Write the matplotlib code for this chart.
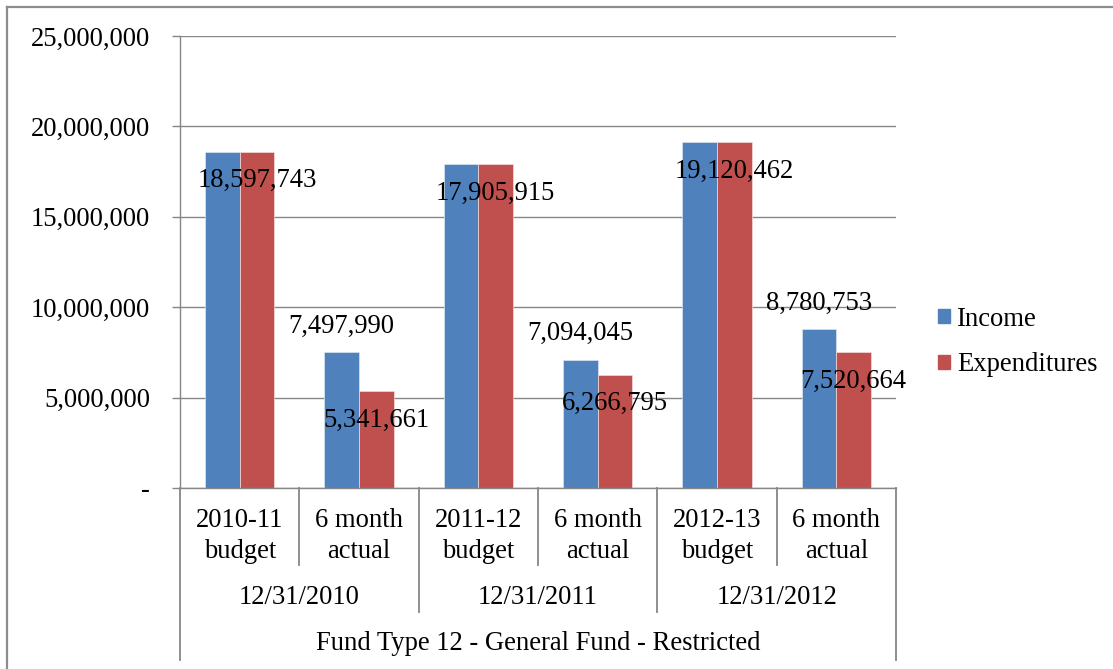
import numpy as np
import matplotlib
matplotlib.use("Agg")
import matplotlib.pyplot as plt
from matplotlib.lines import Line2D
from matplotlib.patches import Patch
from matplotlib.transforms import blended_transform_factory
from matplotlib.ticker import FuncFormatter

plt.rcParams['font.family'] = ['Liberation Serif', 'DejaVu Serif']

# data
periods = ['2010-11\nbudget', '6 month\nactual', '2011-12\nbudget',
           '6 month\nactual', '2012-13\nbudget', '6 month\nactual']
dates = ['12/31/2010', '12/31/2011', '12/31/2012']
fund = 'Fund Type 12 - General Fund - Restricted'
income = [18597743, 7497990, 17905915, 7094045, 19120462, 8780753]
expend = [18597743, 5341661, 17905915, 6266795, 19120462, 7520664]
show_income_label = [False, True, False, True, False, True]

BLUE = '#4F81BD'
RED = '#C0504D'
GRAY = '#868686'
FS = 19.2

W, H = 1113, 669
fig = plt.figure(figsize=(W / 100, H / 100), dpi=100)
ax = fig.add_axes([180 / W, 1 - 488 / H, (896 - 180) / W, (488 - 36) / H])

x = np.arange(len(periods))
bw = 0.29
ax.bar(x - bw / 2, income, bw, color=BLUE, edgecolor='#dbe5f1', linewidth=0.5,
       label='Income', zorder=2)
ax.bar(x + bw / 2, expend, bw, color=RED, edgecolor='#f2dcdb', linewidth=0.5,
       label='Expenditures', zorder=2)

# data labels (px offsets converted to points)
px = 72 / 100
for i in range(len(x)):
    ax.annotate(f'{expend[i]:,}', (x[i] + bw / 2, expend[i]),
                xytext=(0, -29 * px), textcoords='offset points',
                ha='center', va='center', fontsize=FS, zorder=5,
                annotation_clip=False)
    if show_income_label[i]:
        ax.annotate(f'{income[i]:,}', (x[i] - bw / 2, income[i]),
                    xytext=(0, 26 * px), textcoords='offset points',
                    ha='center', va='center', fontsize=FS, zorder=5,
                    annotation_clip=False)

ax.set_xlim(-0.5, len(periods) - 0.5)
ax.set_ylim(0, 25000000)
ax.set_yticks(np.arange(0, 25000001, 5000000))
ax.yaxis.set_major_formatter(FuncFormatter(lambda v, p: '-' if v == 0 else f'{int(v):,}'))
ax.tick_params(axis='y', length=8 * px, width=1.0, color=GRAY, pad=22 * px,
               labelsize=FS)
ax.set_xticks([])
ax.grid(axis='y', color=GRAY, linewidth=1.0, zorder=0)
for s in ['top', 'right']:
    ax.spines[s].set_visible(False)
for s in ['left', 'bottom']:
    ax.spines[s].set_color(GRAY)
    ax.spines[s].set_linewidth(1.0)

# multi-level category axis
tr = blended_transform_factory(ax.transData, fig.transFigure)
def fy(py):
    return 1 - py / H

for b in np.arange(-0.5, len(periods), 1.0):
    if b in (-0.5, len(periods) - 0.5):
        end = 660
    elif (b + 0.5) % 2 == 0:
        end = 612
    else:
        end = 565
    fig.add_artist(Line2D([b, b], [fy(488), fy(end)], transform=tr,
                          color=GRAY, linewidth=1.3))

for i, lab in enumerate(periods):
    fig.text(x[i], fy(536), lab, transform=tr, ha='center', va='center',
             fontsize=FS, linespacing=1.3)
for j, d in enumerate(dates):
    fig.text(2 * j + 0.5, fy(597), d, transform=tr, ha='center', va='center',
             fontsize=FS)
fig.text((x[0] + x[-1]) / 2, fy(643), fund, transform=tr, ha='center',
         va='center', fontsize=FS)

# legend
handles = [Patch(color=BLUE), Patch(color=RED)]
fig.legend(handles, ['Income', 'Expenditures'], loc='center left',
           bbox_to_anchor=(938 / W, fy(342)), frameon=False, fontsize=FS,
           handlelength=0.45, handleheight=0.45, handletextpad=0.27,
           labelspacing=0.77, borderpad=0, borderaxespad=0)

# outer chart border
fig.add_artist(Line2D([7 / W, 1], [fy(6.5), fy(6.5)], color='#8c8c8c', linewidth=1.6))
fig.add_artist(Line2D([7 / W, 7 / W], [fy(6.5), 0], color='#8c8c8c', linewidth=1.6))

fig.savefig('out.png', dpi=100)
